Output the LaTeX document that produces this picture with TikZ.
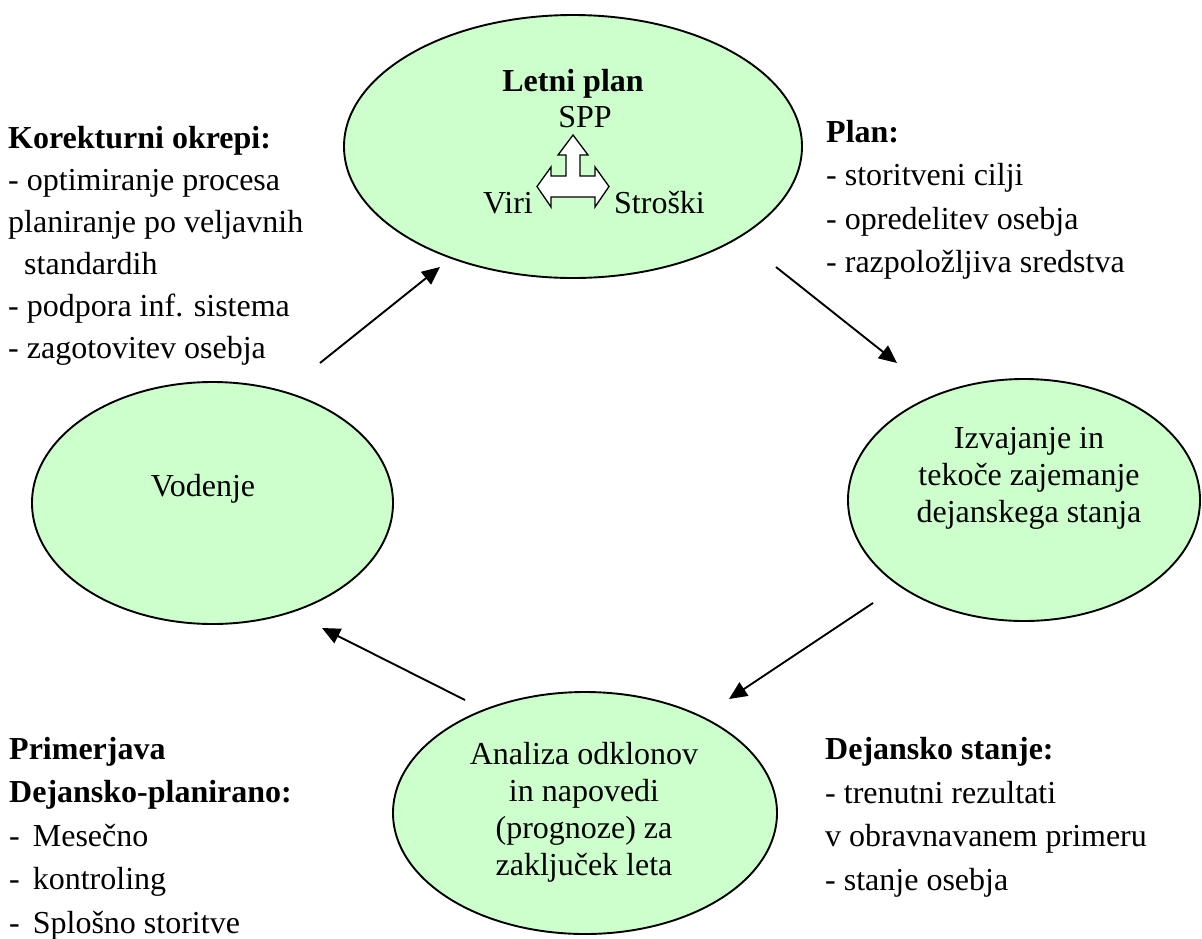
\documentclass[tikz,border=0pt]{standalone}
\usepackage{fontspec}
\setmainfont{Liberation Serif}
\usetikzlibrary{shapes.geometric,arrows.meta}
\definecolor{ovalgreen}{RGB}{204,255,204}
\tikzset{
    oval/.style={ellipse, draw=black, line width=1.9pt, fill=ovalgreen, inner sep=0pt},
    flow/.style={line width=1.9pt, -{Triangle[length=18pt,width=16pt]}},
    blocktext/.style={anchor=base west, align=left, inner sep=0pt, font=\fontsize{32}{43.5}\selectfont},
    ovaltext/.style={anchor=base, align=center, inner sep=0pt, font=\fontsize{32}{37}\selectfont}
}

\begin{document}
\begin{tikzpicture}[x=1pt,y=-1pt]
    \useasboundingbox (0,0) rectangle (1202,938);

    \node[oval, minimum width=458pt, minimum height=263pt] (letni) at (573,146.5) {};
    \node[oval, minimum width=352pt, minimum height=242pt] (izvaj) at (1024,500) {};
    \node[oval, minimum width=384pt, minimum height=242pt] (anal) at (585,813) {};
    \node[oval, minimum width=361pt, minimum height=242pt] (vod) at (212.5,503) {};

    % base anchor = last line of the node
    \node[ovaltext, font=\fontsize{32}{37}\selectfont\bfseries] (letnitxt) at (573,91) {Letni plan};
    \node[ovaltext] (spp) at (585,127) {SPP};
    \node[ovaltext, anchor=base east] (viri) at (533,213) {Viri};
    \node[ovaltext, anchor=base west] (stroski) at (614,213) {Stroški};
    \node[ovaltext] (izvajtxt) at (1029,522) {Izvajanje in\\tekoče zajemanje\\dejanskega stanja};
    \node[ovaltext] (analtxt) at (584,875) {Analiza odklonov\\in napovedi\\(prognoze) za\\zaključek leta};
    \node[ovaltext] (vodtxt) at (203,496) {Vodenje};

    % three-way arrow SPP / Viri / Stroski
    \draw[line width=1.3pt, fill=white, line join=miter]
        (573,135) -- (588,155) -- (580,155) -- (580,176) -- (595,176) -- (595,167)
        -- (609,186.5) -- (595,207) -- (595,197) -- (551,197) -- (551,207)
        -- (537,186.5) -- (551,167) -- (551,176) -- (566,176) -- (566,155)
        -- (558,155) -- cycle;

    \node[blocktext, font=\fontsize{32}{42}\selectfont] (korek) at (8,358) {\textbf{Korekturni okrepi:}\\- optimiranje procesa\\planiranje po veljavnih\\\hspace{16pt}standardih\\- podpora inf. sistema\\- zagotovitev osebja};
    \node[blocktext] (plan) at (826,272.5) {\textbf{Plan:}\\- storitveni cilji\\- opredelitev osebja\\- razpoložljiva sredstva};
    \node[blocktext] (dejan) at (825,890) {\textbf{Dejansko stanje:}\\- trenutni rezultati\\v obravnavanem primeru\\- stanje osebja};
    \node[blocktext] (primer) at (9,933) {\textbf{Primerjava}\\\textbf{Dejansko-planirano:}\\-\hspace{13pt}Mesečno\\-\hspace{13pt}kontroling\\-\hspace{13pt}Splošno storitve};

    % cycle arrows
    \coordinate (vodout) at (320,363);
    \coordinate (letniin) at (440,267);
    \coordinate (letniout) at (776,267);
    \coordinate (izvajin) at (897,363);
    \coordinate (izvajout) at (873,603);
    \coordinate (analin) at (729,699);
    \coordinate (analout) at (465,700);
    \coordinate (vodin) at (322,628);

    \draw[flow] (vodout) -- (letniin);
    \draw[flow] (letniout) -- (izvajin);
    \draw[flow] (izvajout) -- (analin);
    \draw[flow] (analout) -- (vodin);
\end{tikzpicture}
\end{document}
